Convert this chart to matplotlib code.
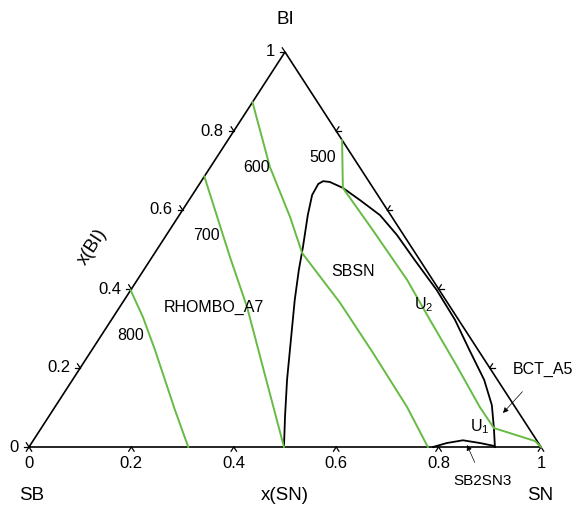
import matplotlib
matplotlib.use('Agg')
import matplotlib.pyplot as plt
import numpy as np

plt.rcParams['font.family'] = ['Liberation Sans', 'DejaVu Sans']
plt.rcParams['mathtext.fontset'] = 'custom'
plt.rcParams['mathtext.rm'] = 'Liberation Sans'

# phase boundaries, as (x(SN), x(BI)) pairs
sbsn_sn = [0.498, 0.462, 0.419, 0.376, 0.333, 0.303, 0.282, 0.251, 0.234, 0.232,
           0.238, 0.252, 0.285, 0.334, 0.392, 0.450, 0.517, 0.598, 0.671, 0.737,
           0.804, 0.851, 0.884, 0.910]
sbsn_bi = [0.0, 0.076, 0.170, 0.271, 0.372, 0.448, 0.506, 0.587, 0.638, 0.666,
           0.673, 0.671, 0.656, 0.625, 0.587, 0.537, 0.473, 0.397, 0.322, 0.246,
           0.170, 0.106, 0.048, 0.0]

sb2sn3_sn = [0.789, 0.811, 0.839, 0.876, 0.906, 0.910]
sb2sn3_bi = [0.0, 0.010, 0.017, 0.010, 0.003, 0.0]

# liquidus isotherms (green)
iso800_sn = [0.0, 0.058, 0.123, 0.238, 0.311]
iso800_bi = [0.397, 0.329, 0.246, 0.094, 0.0]
iso700_sn = [0.0, 0.152, 0.249, 0.384, 0.498]
iso700_bi = [0.685, 0.481, 0.354, 0.162, 0.0]
iso600_sn = [0.0, 0.116, 0.219, 0.288, 0.425, 0.553, 0.688, 0.779]
iso600_bi = [0.873, 0.709, 0.582, 0.491, 0.365, 0.238, 0.101, 0.0]
iso500_sn = [0.223, 0.285, 0.397, 0.527, 0.622, 0.735, 0.830, 0.884]
iso500_bi = [0.777, 0.656, 0.549, 0.423, 0.322, 0.203, 0.101, 0.048]
u1_sn = [0.884, 0.981, 1.0]
u1_bi = [0.048, 0.015, 0.0]

tick_vals = [0, 0.2, 0.4, 0.6, 0.8, 1]
tick_labels = ['0', '0.2', '0.4', '0.6', '0.8', '1']
right_ticks = [0.2, 0.4, 0.6, 0.8]

GREEN = '#66bb44'

# picture is stretched: triangle base 512 px, height 395 px
W, H = 512.0, 395.0


def tern(sn, bi):
    sn = np.asarray(sn, float)
    bi = np.asarray(bi, float)
    return sn + 0.5 * bi, bi


def pix(px, py):
    # pixel position in the picture -> data coords
    return (px - 29) / W, (447 - py) / H


fig = plt.figure(figsize=(5.76, 5.07), dpi=100)
ax = fig.add_axes([0, 0, 1, 1])
ax.set_xlim(-29 / W, 547 / W)
ax.set_ylim(-60 / H, 447 / H)
ax.axis('off')

# triangle frame
fx, fy = tern([0, 1, 0, 0], [0, 0, 1, 0])
ax.plot(fx, fy, color='black', lw=1.2, solid_joinstyle='miter')

# ticks drawn as little chevrons, arms given in screen pixels
L = 5.0
e = np.array([256.0, 395.0]) / np.hypot(256, 395)


def chevron(x, y, arms):
    for dx, dy in arms:
        ax.plot([x, x + dx * L / W], [y, y - dy * L / H], color='black', lw=0.9)


bottom_arms = [(-e[0], e[1]), (e[0], e[1])]
left_arms = [(-1, 0), (-e[0], -e[1])]
right_arms = [(1, 0), (e[0], -e[1])]

for t, lab in zip(tick_vals, tick_labels):
    x, y = tern(t, 0)
    chevron(x, y, bottom_arms)
    ax.text(x, y - 16 / H, lab, ha='center', va='center', fontsize=12)
    x, y = tern(0, t)
    chevron(x, y, left_arms)
    ax.text(x - 10 / W, y, lab, ha='right', va='center', fontsize=12)
for t in right_ticks:
    x, y = tern(1 - t, t)
    chevron(x, y, right_arms)

# phase boundaries
for sn, bi in [(sbsn_sn, sbsn_bi), (sb2sn3_sn, sb2sn3_bi)]:
    ax.plot(*tern(sn, bi), color='black', lw=1.3)

for sn, bi in [(iso800_sn, iso800_bi), (iso700_sn, iso700_bi), (iso600_sn, iso600_bi),
               (iso500_sn, iso500_bi), (u1_sn, u1_bi)]:
    ax.plot(*tern(sn, bi), color=GREEN, lw=1.4)

# labels
lbl = dict(ha='center', va='center', fontsize=11.5)
ax.text(*pix(323, 157), '500', **lbl)
ax.text(*pix(257, 167), '600', **lbl)
ax.text(*pix(206, 236), '700', **lbl)
ax.text(*pix(131, 335), '800', **lbl)
ax.text(*pix(214, 307), 'RHOMBO_A7', **lbl)
ax.text(*pix(353, 271), 'SBSN', **lbl)
ax.text(*pix(424, 305), r'U$_2$', **lbl)
ax.text(*pix(480, 427), r'U$_1$', **lbl)

ax.annotate('BCT_A5', xy=pix(503, 413), xytext=pix(543, 369),
            ha='center', va='center', fontsize=11.5,
            arrowprops=dict(arrowstyle='-|>', color='black', lw=0.5,
                            mutation_scale=8, shrinkA=12, shrinkB=0))
ax.annotate('SB2SN3', xy=pix(467, 445), xytext=pix(483, 481),
            ha='center', va='center', fontsize=11,
            arrowprops=dict(arrowstyle='-|>', color='black', lw=0.5,
                            mutation_scale=8, shrinkA=7, shrinkB=0))

big = dict(ha='center', va='center', fontsize=13.5)
ax.text(*pix(285, 20), 'BI', **big)
ax.text(*pix(32, 496), 'SB', **big)
ax.text(*pix(540, 496), 'SN', **big)
ax.text(*pix(285, 496), 'x(SN)', **big)
ax.text(*pix(92, 247), 'x(BI)', rotation=57, rotation_mode='anchor', **big)

fig.savefig('out.png', dpi=100, facecolor='white')
plt.close(fig)
